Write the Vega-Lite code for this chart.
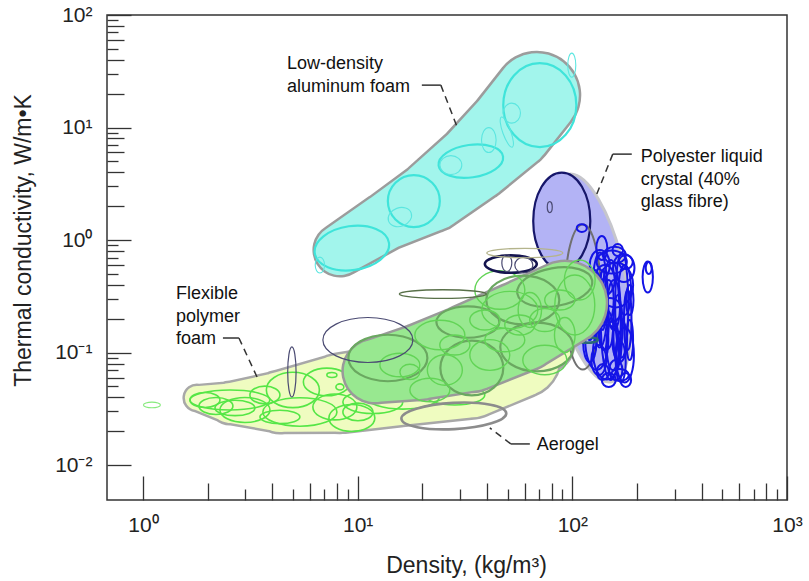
{
  "$schema": "https://vega.github.io/schema/vega-lite/v6.json",
  "width": 680,
  "height": 485,
  "autosize": {"type": "none"},
  "padding": {"left": 107, "top": 15, "right": 22, "bottom": 81},
  "background": "white",
  "config": {"view": {"stroke": "#333333", "strokeWidth": 1.5}, "axis": {"grid": false}},
  "datasets": {
    "env": [
      {"e": "foam", "i": 0, "x": 1.784, "y": 0.03952, "b": 0.213},
      {"e": "foam", "i": 1, "x": 2.542, "y": 0.03567, "b": 0.355},
      {"e": "foam", "i": 2, "x": 4.345, "y": 0.03641, "b": 0.533},
      {"e": "foam", "i": 3, "x": 8.266, "y": 0.04333, "b": 0.684},
      {"e": "foam", "i": 4, "x": 15.73, "y": 0.05155, "b": 0.71},
      {"e": "foam", "i": 5, "x": 33.32, "y": 0.06323, "b": 0.755},
      {"e": "foam", "i": 6, "x": 56.93, "y": 0.0914, "b": 0.71},
      {"e": "foam", "i": 7, "x": 76.86, "y": 0.1168, "b": 0.444},
      {"e": "green", "i": 0, "x": 12.03, "y": 0.0686, "b": 0.551},
      {"e": "green", "i": 1, "x": 19.49, "y": 0.08251, "b": 0.657},
      {"e": "green", "i": 2, "x": 33.32, "y": 0.1099, "b": 0.764},
      {"e": "green", "i": 3, "x": 56.93, "y": 0.1688, "b": 0.782},
      {"e": "green", "i": 4, "x": 92.23, "y": 0.2757, "b": 0.728},
      {"e": "alu", "i": 0, "x": 8.266, "y": 0.815, "b": 0.444},
      {"e": "alu", "i": 1, "x": 13.39, "y": 1.445, "b": 0.497},
      {"e": "alu", "i": 2, "x": 22.16, "y": 2.459, "b": 0.622},
      {"e": "alu", "i": 3, "x": 35.15, "y": 4.928, "b": 0.684},
      {"e": "alu", "i": 4, "x": 51.7, "y": 9.879, "b": 0.746},
      {"e": "alu", "i": 5, "x": 68.31, "y": 19.4, "b": 0.746}
    ],
    "ell": [
      {"g": "gr", "x": 4.993, "y": 0.04655, "s": 0.247, "a": "1.5", "t": 0},
      {"g": "gr", "x": 7.191, "y": 0.05481, "s": 0.219, "a": "1.7", "t": 0},
      {"g": "gr", "x": 2.542, "y": 0.03793, "s": 0.372, "a": "4", "t": 0},
      {"g": "gr", "x": 2.986, "y": 0.03092, "s": 0.233, "a": "2", "t": 0},
      {"g": "gr", "x": 5.383, "y": 0.02969, "s": 0.345, "a": "2.6", "t": 0},
      {"g": "gr", "x": 7.834, "y": 0.03287, "s": 0.205, "a": "1.7", "t": 0},
      {"g": "gr", "x": 11.77, "y": 0.03641, "s": 0.279, "a": "2.6", "t": 0},
      {"g": "gr", "x": 2.682, "y": 0.03221, "s": 0.186, "a": "2.6", "t": 0},
      {"g": "gr", "x": 1.944, "y": 0.03793, "s": 0.14, "a": "2", "t": 0},
      {"g": "gr", "x": 3.699, "y": 0.04201, "s": 0.14, "a": "1.7", "t": 0},
      {"g": "gr", "x": 7.586, "y": 0.06323, "s": 0.047, "a": "2", "t": 0},
      {"g": "gr", "x": 8.266, "y": 0.04949, "s": 0.037, "a": "1.3", "t": 0},
      {"g": "gr", "x": 4.345, "y": 0.02679, "s": 0.186, "a": "3", "t": 0},
      {"g": "gr", "x": 10.03, "y": 0.02969, "s": 0.14, "a": "1.7", "t": 0},
      {"g": "gr", "x": 16.24, "y": 0.04033, "s": 0.34, "a": "3", "t": 0},
      {"g": "gr", "x": 9.4, "y": 0.02625, "s": 0.214, "a": "1.7", "t": 0},
      {"g": "gr", "x": 2.188, "y": 0.03355, "s": 0.158, "a": "2", "t": 0},
      {"g": "gr", "x": 28.36, "y": 0.04201, "s": 0.279, "a": "3", "t": 0},
      {"g": "grt", "x": 1.101, "y": 0.03424, "s": 0.079, "a": "3", "t": 0},
      {"g": "lcp", "x": 120.6, "y": 0.4597, "s": 0.987, "a": "3", "t": 78},
      {"g": "nvf", "x": 89.3, "y": 1.475, "s": 0.452, "a": "1.7", "t": 90},
      {"g": "gy", "x": 111.9, "y": 0.3117, "s": 0.675, "a": "4", "t": 90},
      {"g": "bl", "x": 134.3, "y": 0.2932, "s": 0.442, "a": "6", "t": 90},
      {"g": "bl", "x": 151.1, "y": 0.1948, "s": 0.559, "a": "6", "t": 90},
      {"g": "bl", "x": 169.9, "y": 0.2647, "s": 0.489, "a": "8", "t": 90},
      {"g": "bl", "x": 130.0, "y": 0.1294, "s": 0.279, "a": "2.6", "t": 90},
      {"g": "bl", "x": 159.4, "y": 0.3985, "s": 0.21, "a": "1.3", "t": 90},
      {"g": "bl", "x": 144.7, "y": 0.1012, "s": 0.256, "a": "2", "t": 90},
      {"g": "bl", "x": 175.5, "y": 0.09521, "s": 0.256, "a": "3", "t": 90},
      {"g": "bl", "x": 159.4, "y": 0.07007, "s": 0.093, "a": "1.5", "t": 90},
      {"g": "bl", "x": 127.2, "y": 0.2932, "s": 0.256, "a": "6", "t": 90},
      {"g": "bl", "x": 152.7, "y": 0.6378, "s": 0.14, "a": "1.3", "t": 0},
      {"g": "bl", "x": 173.6, "y": 0.5642, "s": 0.13, "a": "1.3", "t": 90},
      {"g": "bl", "x": 120.6, "y": 0.1242, "s": 0.186, "a": "3", "t": 90},
      {"g": "bl", "x": 162.8, "y": 0.1588, "s": 0.326, "a": "8", "t": 90},
      {"g": "bl", "x": 141.6, "y": 0.4413, "s": 0.14, "a": "1.5", "t": 90},
      {"g": "bl", "x": 181.2, "y": 0.1948, "s": 0.279, "a": "8", "t": 90},
      {"g": "bl", "x": 138.7, "y": 0.06725, "s": 0.074, "a": "1.3", "t": 90},
      {"g": "bl", "x": 166.3, "y": 0.06323, "s": 0.084, "a": "1.5", "t": 0},
      {"g": "bl", "x": 128.6, "y": 0.2114, "s": 0.093, "a": "1", "t": 0},
      {"g": "bl", "x": 147.8, "y": 0.2932, "s": 0.186, "a": "4", "t": 90},
      {"g": "bl", "x": 224.6, "y": 0.4692, "s": 0.144, "a": "3", "t": 90},
      {"g": "bl", "x": 227.0, "y": 0.5642, "s": 0.056, "a": "2", "t": 90},
      {"g": "bl", "x": 137.2, "y": 0.8492, "s": 0.112, "a": "2.2", "t": 90},
      {"g": "bl", "x": 110.7, "y": 1.278, "s": 0.047, "a": "1.3", "t": 0},
      {"g": "bl", "x": 140.1, "y": 0.1948, "s": 0.279, "a": "6", "t": 90},
      {"g": "bl", "x": 156.0, "y": 0.2647, "s": 0.233, "a": "4", "t": 90},
      {"g": "bl", "x": 166.3, "y": 0.1294, "s": 0.205, "a": "3", "t": 90},
      {"g": "bl", "x": 185.1, "y": 0.2932, "s": 0.14, "a": "4", "t": 90},
      {"g": "bl", "x": 177.4, "y": 0.6378, "s": 0.065, "a": "1", "t": 0},
      {"g": "bl", "x": 134.3, "y": 0.5998, "s": 0.14, "a": "1.5", "t": 90},
      {"g": "bl", "x": 157.7, "y": 0.736, "s": 0.102, "a": "1.3", "t": 0},
      {"g": "bl", "x": 127.2, "y": 0.3985, "s": 0.14, "a": "3", "t": 90},
      {"g": "bl", "x": 175.5, "y": 0.3597, "s": 0.233, "a": "4", "t": 90},
      {"g": "bl", "x": 143.2, "y": 0.1588, "s": 0.186, "a": "2.6", "t": 90},
      {"g": "bl", "x": 154.3, "y": 0.1168, "s": 0.233, "a": "4", "t": 90},
      {"g": "bl", "x": 132.9, "y": 0.08596, "s": 0.14, "a": "2", "t": 90},
      {"g": "bl", "x": 168.1, "y": 0.08251, "s": 0.186, "a": "4", "t": 90},
      {"g": "bl", "x": 185.1, "y": 0.1294, "s": 0.186, "a": "6", "t": 90},
      {"g": "bl", "x": 149.4, "y": 0.2389, "s": 0.112, "a": "1", "t": 0},
      {"g": "bl", "x": 120.6, "y": 0.1948, "s": 0.186, "a": "4", "t": 90},
      {"g": "bl", "x": 162.8, "y": 0.815, "s": 0.056, "a": "1.15", "t": 90},
      {"g": "bl", "x": 138.7, "y": 0.2932, "s": 0.279, "a": "10", "t": 90},
      {"g": "bl", "x": 177.4, "y": 0.0571, "s": 0.065, "a": "1.3", "t": 90},
      {"g": "bl", "x": 147.8, "y": 0.0571, "s": 0.065, "a": "1", "t": 0},
      {"g": "teal", "x": 116.8, "y": 0.1294, "s": 0.102, "a": "4", "t": 0},
      {"g": "gg", "x": 34.03, "y": 0.07298, "s": 0.293, "a": "1.15", "t": 0},
      {"g": "gg", "x": 13.83, "y": 0.08956, "s": 0.368, "a": "1.7", "t": 0},
      {"g": "gg", "x": 58.79, "y": 0.2932, "s": 0.34, "a": "1.5", "t": 0},
      {"g": "gg", "x": 68.31, "y": 0.1121, "s": 0.34, "a": "1.5", "t": 0},
      {"g": "gg", "x": 32.61, "y": 0.187, "s": 0.293, "a": "2", "t": 0},
      {"g": "gg", "x": 82.84, "y": 0.3825, "s": 0.354, "a": "2", "t": -10},
      {"g": "gl", "x": 45.95, "y": 0.3597, "s": 0.233, "a": "1.3", "t": 0},
      {"g": "gl", "x": 102.7, "y": 0.2647, "s": 0.279, "a": "1.5", "t": 90},
      {"g": "gl", "x": 21.7, "y": 0.04655, "s": 0.186, "a": "1.7", "t": 0},
      {"g": "gl", "x": 17.51, "y": 0.06725, "s": 0.093, "a": "1.3", "t": 0},
      {"g": "gl", "x": 56.93, "y": 0.1759, "s": 0.14, "a": "1.5", "t": 0},
      {"g": "gl", "x": 74.43, "y": 0.1948, "s": 0.14, "a": "1.3", "t": 0},
      {"g": "gl", "x": 41.27, "y": 0.09521, "s": 0.186, "a": "1.3", "t": 0},
      {"g": "gl", "x": 28.36, "y": 0.1168, "s": 0.14, "a": "1.5", "t": 0},
      {"g": "gl", "x": 92.23, "y": 0.1433, "s": 0.163, "a": "1.7", "t": 90},
      {"g": "gl", "x": 51.14, "y": 0.2389, "s": 0.261, "a": "1.5", "t": 0},
      {"g": "gl", "x": 24.15, "y": 0.1433, "s": 0.233, "a": "1.7", "t": 0},
      {"g": "gl", "x": 74.43, "y": 0.08596, "s": 0.205, "a": "1.5", "t": 0},
      {"g": "gl", "x": 108.3, "y": 0.4413, "s": 0.186, "a": "1.3", "t": 90},
      {"g": "gl", "x": 15.73, "y": 0.0776, "s": 0.186, "a": "1.7", "t": 0},
      {"g": "gl", "x": 25.48, "y": 0.07007, "s": 0.163, "a": "1.15", "t": 0},
      {"g": "gl", "x": 48.48, "y": 0.1294, "s": 0.186, "a": "1.7", "t": 0},
      {"g": "gl", "x": 63.4, "y": 0.2389, "s": 0.163, "a": "1.5", "t": 90},
      {"g": "gl", "x": 39.13, "y": 0.1948, "s": 0.14, "a": "1.5", "t": 0},
      {"g": "gl", "x": 87.41, "y": 0.2932, "s": 0.14, "a": "1.5", "t": 0},
      {"g": "nv", "x": 51.7, "y": 0.612, "s": 0.242, "a": "3", "t": 0},
      {"g": "nvt", "x": 49.53, "y": 0.6247, "s": 0.079, "a": "1.7", "t": 90},
      {"g": "nvt", "x": 59.43, "y": 0.5998, "s": 0.084, "a": "1.15", "t": 0},
      {"g": "nvt", "x": 11.16, "y": 0.1294, "s": 0.419, "a": "2", "t": 0},
      {"g": "nvt", "x": 4.94, "y": 0.06725, "s": 0.233, "a": "6", "t": 90},
      {"g": "nvt", "x": 78.52, "y": 1.964, "s": 0.051, "a": "2.2", "t": 90},
      {"g": "ol1", "x": 60.07, "y": 0.7667, "s": 0.354, "a": "8", "t": 0},
      {"g": "ol2", "x": 24.94, "y": 0.3315, "s": 0.405, "a": "10", "t": 0},
      {"g": "ae", "x": 28.06, "y": 0.02734, "s": 0.489, "a": "4", "t": -3},
      {"g": "cy", "x": 9.4, "y": 0.8492, "s": 0.349, "a": "1.7", "t": -8},
      {"g": "cy", "x": 18.27, "y": 2.22, "s": 0.242, "a": "1", "t": 0},
      {"g": "cy", "x": 33.67, "y": 5.03, "s": 0.303, "a": "2", "t": -8},
      {"g": "cy", "x": 70.55, "y": 15.81, "s": 0.391, "a": "1.15", "t": 90},
      {"g": "cyt", "x": 15.73, "y": 1.601, "s": 0.112, "a": "1.3", "t": -20},
      {"g": "cyt", "x": 27.18, "y": 4.636, "s": 0.102, "a": "1.15", "t": 0},
      {"g": "cyt", "x": 40.83, "y": 7.73, "s": 0.116, "a": "1.7", "t": 90},
      {"g": "cyt", "x": 52.25, "y": 13.43, "s": 0.093, "a": "1.15", "t": 90},
      {"g": "cyt", "x": 49.53, "y": 9.101, "s": 0.149, "a": "4", "t": 70},
      {"g": "cyt", "x": 99.43, "y": 35.84, "s": 0.112, "a": "3", "t": 90},
      {"g": "cyt", "x": 6.671, "y": 0.5998, "s": 0.074, "a": "1.7", "t": 90}
    ],
    "lead": [
      {"id": "alu", "k": "s", "i": 0, "x": 19.91, "y": 23.81},
      {"id": "alu", "k": "s", "i": 1, "x": 24.41, "y": 23.81},
      {"id": "alu", "k": "d", "i": 0, "x": 24.41, "y": 23.81},
      {"id": "alu", "k": "d", "i": 1, "x": 28.97, "y": 10.29},
      {"id": "lcp", "k": "s", "i": 0, "x": 189.2, "y": 5.804},
      {"id": "lcp", "k": "s", "i": 1, "x": 154.3, "y": 5.804},
      {"id": "lcp", "k": "d", "i": 0, "x": 154.3, "y": 5.804},
      {"id": "lcp", "k": "d", "i": 1, "x": 130.0, "y": 2.562},
      {"id": "foam", "k": "s", "i": 0, "x": 2.358, "y": 0.1348},
      {"id": "foam", "k": "s", "i": 1, "x": 2.799, "y": 0.1348},
      {"id": "foam", "k": "d", "i": 0, "x": 2.799, "y": 0.1348},
      {"id": "foam", "k": "d", "i": 1, "x": 3.432, "y": 0.05829},
      {"id": "aero", "k": "s", "i": 0, "x": 63.4, "y": 0.01543},
      {"id": "aero", "k": "s", "i": 1, "x": 51.7, "y": 0.01543},
      {"id": "aero", "k": "d", "i": 0, "x": 51.7, "y": 0.01543},
      {"id": "aero", "k": "d", "i": 1, "x": 41.27, "y": 0.0214}
    ],
    "notes": [
      {"x": 4.683, "y": 33.0, "t": "Low-density\naluminum foam"},
      {"x": 208.3, "y": 4.928, "t": "Polyester liquid\ncrystal (40%\nglass fibre)"},
      {"x": 1.424, "y": 0.2992, "t": "Flexible\npolymer\nfoam"},
      {"x": 68.3, "y": 0.01365, "t": "Aerogel"}
    ]
  },
  "encoding": {
    "x": {"field": "x", "type": "quantitative", "scale": {"type": "log", "domain": [0.68, 1000], "nice": false}, "axis": null},
    "y": {"field": "y", "type": "quantitative", "scale": {"type": "log", "domain": [0.0049, 100], "nice": false}, "axis": null}
  },
  "layer": [
    {
      "data": {"name": "env"},
      "transform": [{"filter": "datum.e == 'foam'"}],
      "mark": {"type": "trail", "color": "#a8a8a8", "opacity": 1},
      "encoding": {
        "x": {"field": "x", "type": "quantitative", "scale": {"type": "log", "domain": [0.68, 1000], "nice": false},
          "axis": {"orient": "bottom", "values": [1, 10, 100, 1000], "tickSize": 24, "offset": -24, "domain": false, "labels": false, "title": null, "tickColor": "#333333", "tickWidth": 1.3, "grid": false}},
        "y": {"field": "y", "type": "quantitative", "scale": {"type": "log", "domain": [0.0049, 100], "nice": false},
          "axis": {"orient": "left", "values": [0.01, 0.1, 1, 10, 100], "tickSize": 24, "offset": -24, "domain": false, "labels": false, "title": null, "tickColor": "#333333", "tickWidth": 1.3, "grid": false}},
        "order": {"field": "i", "type": "quantitative"},
        "size": {"field": "b", "type": "quantitative", "scale": {"type": "linear", "domain": [0, 1], "range": [5, 117.6], "nice": false, "zero": false}, "legend": null}
      }
    },
    {
      "data": {"name": "env"},
      "transform": [{"filter": "datum.e == 'foam'"}],
      "mark": {"type": "trail", "color": "#effcc0", "opacity": 1},
      "encoding": {
        "x": {"field": "x", "type": "quantitative", "scale": {"type": "log", "domain": [0.68, 1000], "nice": false},
          "axis": {"orient": "bottom", "values": [2, 4, 6, 8, 20, 40, 60, 80, 200, 400, 600, 800], "tickSize": 17, "offset": -17, "domain": false, "labels": false, "title": null, "tickColor": "#333333", "tickWidth": 1.3, "grid": false}},
        "y": {"field": "y", "type": "quantitative", "scale": {"type": "log", "domain": [0.0049, 100], "nice": false},
          "axis": {"orient": "left", "values": [0.02, 0.04, 0.06, 0.08, 0.2, 0.4, 0.6, 0.8, 2, 4, 6, 8, 20, 40, 60, 80], "tickSize": 17, "offset": -17, "domain": false, "labels": false, "title": null, "tickColor": "#333333", "tickWidth": 1.3, "grid": false}},
        "order": {"field": "i", "type": "quantitative"},
        "size": {"field": "b", "type": "quantitative", "scale": {"type": "linear", "domain": [0, 1], "range": [0, 112.6], "nice": false, "zero": false}, "legend": null}
      }
    },
    {
      "data": {"name": "ell"},
      "transform": [{"filter": "datum.g == 'gr'"}],
      "mark": {"type": "point", "filled": false, "stroke": "#55e646", "strokeWidth": 1.6, "opacity": 1},
      "encoding": {
        "size": {"field": "s", "type": "quantitative", "scale": {"type": "pow", "exponent": 2, "domain": [0, 1], "range": [0, 46127]}, "legend": null},
        "shape": {"field": "a", "type": "nominal", "legend": null, "scale": {"domain": ["1", "1.15", "1.3", "1.5", "1.7", "2", "2.2", "2.6", "3", "4", "6", "8", "10"], "range": [
          "M-1,0C-1,-0.552 -0.552,-1 0,-1C0.552,-1 1,-0.552 1,0C1,0.552 0.552,1 0,1C-0.552,1 -1,0.552 -1,0Z",
          "M-1,0C-1,-0.48 -0.552,-0.87 0,-0.87C0.552,-0.87 1,-0.48 1,0C1,0.48 0.552,0.87 0,0.87C-0.552,0.87 -1,0.48 -1,0Z",
          "M-1,0C-1,-0.425 -0.552,-0.769 0,-0.769C0.552,-0.769 1,-0.425 1,0C1,0.425 0.552,0.769 0,0.769C-0.552,0.769 -1,0.425 -1,0Z",
          "M-1,0C-1,-0.368 -0.552,-0.667 0,-0.667C0.552,-0.667 1,-0.368 1,0C1,0.368 0.552,0.667 0,0.667C-0.552,0.667 -1,0.368 -1,0Z",
          "M-1,0C-1,-0.325 -0.552,-0.588 0,-0.588C0.552,-0.588 1,-0.325 1,0C1,0.325 0.552,0.588 0,0.588C-0.552,0.588 -1,0.325 -1,0Z",
          "M-1,0C-1,-0.276 -0.552,-0.5 0,-0.5C0.552,-0.5 1,-0.276 1,0C1,0.276 0.552,0.5 0,0.5C-0.552,0.5 -1,0.276 -1,0Z",
          "M-1,0C-1,-0.251 -0.552,-0.455 0,-0.455C0.552,-0.455 1,-0.251 1,0C1,0.251 0.552,0.455 0,0.455C-0.552,0.455 -1,0.251 -1,0Z",
          "M-1,0C-1,-0.212 -0.552,-0.385 0,-0.385C0.552,-0.385 1,-0.212 1,0C1,0.212 0.552,0.385 0,0.385C-0.552,0.385 -1,0.212 -1,0Z",
          "M-1,0C-1,-0.184 -0.552,-0.333 0,-0.333C0.552,-0.333 1,-0.184 1,0C1,0.184 0.552,0.333 0,0.333C-0.552,0.333 -1,0.184 -1,0Z",
          "M-1,0C-1,-0.138 -0.552,-0.25 0,-0.25C0.552,-0.25 1,-0.138 1,0C1,0.138 0.552,0.25 0,0.25C-0.552,0.25 -1,0.138 -1,0Z",
          "M-1,0C-1,-0.092 -0.552,-0.167 0,-0.167C0.552,-0.167 1,-0.092 1,0C1,0.092 0.552,0.167 0,0.167C-0.552,0.167 -1,0.092 -1,0Z",
          "M-1,0C-1,-0.069 -0.552,-0.125 0,-0.125C0.552,-0.125 1,-0.069 1,0C1,0.069 0.552,0.125 0,0.125C-0.552,0.125 -1,0.069 -1,0Z",
          "M-1,0C-1,-0.055 -0.552,-0.1 0,-0.1C0.552,-0.1 1,-0.055 1,0C1,0.055 0.552,0.1 0,0.1C-0.552,0.1 -1,0.055 -1,0Z"
        ]}},
        "angle": {"field": "t", "type": "quantitative", "scale": null}
      }
    },
    {
      "data": {"name": "ell"},
      "transform": [{"filter": "datum.g == 'grt'"}],
      "mark": {"type": "point", "filled": false, "stroke": "#86ea7c", "strokeWidth": 1.1, "opacity": 1},
      "encoding": {
        "size": {"field": "s", "type": "quantitative", "scale": {"type": "pow", "exponent": 2, "domain": [0, 1], "range": [0, 46127]}, "legend": null},
        "shape": {"field": "a", "type": "nominal", "legend": null},
        "angle": {"field": "t", "type": "quantitative", "scale": null}
      }
    },
    {
      "data": {"name": "ell"},
      "transform": [{"filter": "datum.g == 'lcp'"}],
      "mark": {"type": "point", "filled": true, "fill": "#b3b3f5", "stroke": "#c6c6cc", "strokeWidth": 3, "opacity": 1},
      "encoding": {
        "size": {"field": "s", "type": "quantitative", "scale": {"type": "pow", "exponent": 2, "domain": [0, 1], "range": [0, 46127]}, "legend": null},
        "shape": {"field": "a", "type": "nominal", "legend": null},
        "angle": {"field": "t", "type": "quantitative", "scale": null}
      }
    },
    {
      "data": {"name": "ell"},
      "transform": [{"filter": "datum.g == 'nvf'"}],
      "mark": {"type": "point", "filled": true, "fill": "#b3b3f5", "stroke": "#16166a", "strokeWidth": 2.2, "opacity": 1},
      "encoding": {
        "size": {"field": "s", "type": "quantitative", "scale": {"type": "pow", "exponent": 2, "domain": [0, 1], "range": [0, 46127]}, "legend": null},
        "shape": {"field": "a", "type": "nominal", "legend": null},
        "angle": {"field": "t", "type": "quantitative", "scale": null}
      }
    },
    {
      "data": {"name": "ell"},
      "transform": [{"filter": "datum.g == 'gy'"}],
      "mark": {"type": "point", "filled": false, "stroke": "#707070", "strokeWidth": 2, "opacity": 1},
      "encoding": {
        "size": {"field": "s", "type": "quantitative", "scale": {"type": "pow", "exponent": 2, "domain": [0, 1], "range": [0, 46127]}, "legend": null},
        "shape": {"field": "a", "type": "nominal", "legend": null},
        "angle": {"field": "t", "type": "quantitative", "scale": null}
      }
    },
    {
      "data": {"name": "ell"},
      "transform": [{"filter": "datum.g == 'bl'"}],
      "mark": {"type": "point", "filled": false, "stroke": "#1414e6", "strokeWidth": 2, "opacity": 1},
      "encoding": {
        "size": {"field": "s", "type": "quantitative", "scale": {"type": "pow", "exponent": 2, "domain": [0, 1], "range": [0, 46127]}, "legend": null},
        "shape": {"field": "a", "type": "nominal", "legend": null},
        "angle": {"field": "t", "type": "quantitative", "scale": null}
      }
    },
    {
      "data": {"name": "ell"},
      "transform": [{"filter": "datum.g == 'teal'"}],
      "mark": {"type": "point", "filled": false, "stroke": "#2a6a78", "strokeWidth": 2.5, "opacity": 1},
      "encoding": {
        "size": {"field": "s", "type": "quantitative", "scale": {"type": "pow", "exponent": 2, "domain": [0, 1], "range": [0, 46127]}, "legend": null},
        "shape": {"field": "a", "type": "nominal", "legend": null},
        "angle": {"field": "t", "type": "quantitative", "scale": null}
      }
    },
    {
      "data": {"name": "env"},
      "transform": [{"filter": "datum.e == 'green'"}],
      "mark": {"type": "trail", "color": "#9a9a9a", "opacity": 1},
      "encoding": {
        "x": {"field": "x", "type": "quantitative", "scale": {"type": "log", "domain": [0.68, 1000], "nice": false},
          "axis": {"orient": "bottom", "values": [3, 5, 7, 9, 30, 50, 70, 90, 300, 500, 700, 900], "tickSize": 11, "offset": -11, "domain": false, "labels": false, "title": null, "tickColor": "#333333", "tickWidth": 1.3, "grid": false}},
        "y": {"field": "y", "type": "quantitative", "scale": {"type": "log", "domain": [0.0049, 100], "nice": false},
          "axis": {"orient": "left", "values": [0.03, 0.05, 0.07, 0.09, 0.3, 0.5, 0.7, 0.9, 3, 5, 7, 9, 30, 50, 70, 90], "tickSize": 11, "offset": -11, "domain": false, "labels": false, "title": null, "tickColor": "#333333", "tickWidth": 1.3, "grid": false}},
        "order": {"field": "i", "type": "quantitative"},
        "size": {"field": "b", "type": "quantitative", "scale": {"type": "linear", "domain": [0, 1], "range": [5, 117.6], "nice": false, "zero": false}, "legend": null}
      }
    },
    {
      "data": {"name": "env"},
      "transform": [{"filter": "datum.e == 'green'"}],
      "mark": {"type": "trail", "color": "#98e890", "opacity": 1},
      "encoding": {
        "x": {"field": "x", "type": "quantitative", "scale": {"type": "log", "domain": [0.68, 1000], "nice": false},
          "axis": {"orient": "bottom", "values": [1, 10, 100, 1000], "ticks": false, "domain": false, "labels": true, "grid": false,
            "labelExpr": "datum.value == 1 ? '10\u2070' : datum.value == 10 ? '10\u00b9' : datum.value == 100 ? '10\u00b2' : '10\u00b3'",
            "labelFont": "Liberation Sans", "labelFontSize": 21, "labelColor": "#222222", "labelPadding": 14, "labelFlush": false, "labelOverlap": false, "labelBound": false,
            "title": "Density, (kg/m\u00b3)", "titleFont": "Liberation Sans", "titleFontSize": 23, "titleFontWeight": "normal", "titleColor": "#222222",
            "titleX": 359, "titleY": 72, "titleBaseline": "alphabetic", "titleAlign": "center"}},
        "y": {"field": "y", "type": "quantitative", "scale": {"type": "log", "domain": [0.0049, 100], "nice": false},
          "axis": {"orient": "left", "values": [0.01, 0.1, 1, 10, 100], "ticks": false, "domain": false, "labels": true, "grid": false,
            "labelExpr": "datum.value < 0.05 ? '10\u207b\u00b2' : datum.value < 0.5 ? '10\u207b\u00b9' : datum.value < 5 ? '10\u2070' : datum.value < 50 ? '10\u00b9' : '10\u00b2'",
            "labelFont": "Liberation Sans", "labelFontSize": 21, "labelColor": "#222222", "labelPadding": 15, "labelFlush": false, "labelOverlap": false, "labelBound": false,
            "title": "Thermal conductivity, W/m\u2022K", "titleFont": "Liberation Sans", "titleFontSize": 23, "titleFontWeight": "normal", "titleColor": "#222222",
            "titleX": -77, "titleY": 225, "titleAngle": 270, "titleBaseline": "alphabetic", "titleAlign": "center"}},
        "order": {"field": "i", "type": "quantitative"},
        "size": {"field": "b", "type": "quantitative", "scale": {"type": "linear", "domain": [0, 1], "range": [0, 112.6], "nice": false, "zero": false}, "legend": null}
      }
    },
    {
      "data": {"name": "ell"},
      "transform": [{"filter": "datum.g == 'gg'"}],
      "mark": {"type": "point", "filled": false, "stroke": "#6aa860", "strokeWidth": 2.2, "opacity": 1},
      "encoding": {
        "size": {"field": "s", "type": "quantitative", "scale": {"type": "pow", "exponent": 2, "domain": [0, 1], "range": [0, 46127]}, "legend": null},
        "shape": {"field": "a", "type": "nominal", "legend": null},
        "angle": {"field": "t", "type": "quantitative", "scale": null}
      }
    },
    {
      "data": {"name": "ell"},
      "transform": [{"filter": "datum.g == 'gl'"}],
      "mark": {"type": "point", "filled": false, "stroke": "#62d456", "strokeWidth": 1.4, "opacity": 1},
      "encoding": {
        "size": {"field": "s", "type": "quantitative", "scale": {"type": "pow", "exponent": 2, "domain": [0, 1], "range": [0, 46127]}, "legend": null},
        "shape": {"field": "a", "type": "nominal", "legend": null},
        "angle": {"field": "t", "type": "quantitative", "scale": null}
      }
    },
    {
      "data": {"name": "ell"},
      "transform": [{"filter": "datum.g == 'nv'"}],
      "mark": {"type": "point", "filled": false, "stroke": "#14144e", "strokeWidth": 2.6, "opacity": 1},
      "encoding": {
        "size": {"field": "s", "type": "quantitative", "scale": {"type": "pow", "exponent": 2, "domain": [0, 1], "range": [0, 46127]}, "legend": null},
        "shape": {"field": "a", "type": "nominal", "legend": null},
        "angle": {"field": "t", "type": "quantitative", "scale": null}
      }
    },
    {
      "data": {"name": "ell"},
      "transform": [{"filter": "datum.g == 'nvt'"}],
      "mark": {"type": "point", "filled": false, "stroke": "#4a4a72", "strokeWidth": 1.2, "opacity": 1},
      "encoding": {
        "size": {"field": "s", "type": "quantitative", "scale": {"type": "pow", "exponent": 2, "domain": [0, 1], "range": [0, 46127]}, "legend": null},
        "shape": {"field": "a", "type": "nominal", "legend": null},
        "angle": {"field": "t", "type": "quantitative", "scale": null}
      }
    },
    {
      "data": {"name": "ell"},
      "transform": [{"filter": "datum.g == 'ol1'"}],
      "mark": {"type": "point", "filled": false, "stroke": "#b4b48c", "strokeWidth": 1.3, "opacity": 1},
      "encoding": {
        "size": {"field": "s", "type": "quantitative", "scale": {"type": "pow", "exponent": 2, "domain": [0, 1], "range": [0, 46127]}, "legend": null},
        "shape": {"field": "a", "type": "nominal", "legend": null},
        "angle": {"field": "t", "type": "quantitative", "scale": null}
      }
    },
    {
      "data": {"name": "ell"},
      "transform": [{"filter": "datum.g == 'ol2'"}],
      "mark": {"type": "point", "filled": false, "stroke": "#587048", "strokeWidth": 1.4, "opacity": 1},
      "encoding": {
        "size": {"field": "s", "type": "quantitative", "scale": {"type": "pow", "exponent": 2, "domain": [0, 1], "range": [0, 46127]}, "legend": null},
        "shape": {"field": "a", "type": "nominal", "legend": null},
        "angle": {"field": "t", "type": "quantitative", "scale": null}
      }
    },
    {
      "data": {"name": "ell"},
      "transform": [{"filter": "datum.g == 'ae'"}],
      "mark": {"type": "point", "filled": false, "stroke": "#8c8c8c", "strokeWidth": 2.6, "opacity": 1},
      "encoding": {
        "size": {"field": "s", "type": "quantitative", "scale": {"type": "pow", "exponent": 2, "domain": [0, 1], "range": [0, 46127]}, "legend": null},
        "shape": {"field": "a", "type": "nominal", "legend": null},
        "angle": {"field": "t", "type": "quantitative", "scale": null}
      }
    },
    {
      "data": {"name": "env"},
      "transform": [{"filter": "datum.e == 'alu'"}],
      "mark": {"type": "trail", "color": "#9c9c9c", "opacity": 1},
      "encoding": {
        "order": {"field": "i", "type": "quantitative"},
        "size": {"field": "b", "type": "quantitative", "scale": {"type": "linear", "domain": [0, 1], "range": [5, 117.6], "nice": false, "zero": false}, "legend": null}
      }
    },
    {
      "data": {"name": "env"},
      "transform": [{"filter": "datum.e == 'alu'"}],
      "mark": {"type": "trail", "color": "#a2f5ec", "opacity": 1},
      "encoding": {
        "order": {"field": "i", "type": "quantitative"},
        "size": {"field": "b", "type": "quantitative", "scale": {"type": "linear", "domain": [0, 1], "range": [0, 112.6], "nice": false, "zero": false}, "legend": null}
      }
    },
    {
      "data": {"name": "ell"},
      "transform": [{"filter": "datum.g == 'cy'"}],
      "mark": {"type": "point", "filled": false, "stroke": "#3fe4da", "strokeWidth": 2.2, "opacity": 1},
      "encoding": {
        "size": {"field": "s", "type": "quantitative", "scale": {"type": "pow", "exponent": 2, "domain": [0, 1], "range": [0, 46127]}, "legend": null},
        "shape": {"field": "a", "type": "nominal", "legend": null},
        "angle": {"field": "t", "type": "quantitative", "scale": null}
      }
    },
    {
      "data": {"name": "ell"},
      "transform": [{"filter": "datum.g == 'cyt'"}],
      "mark": {"type": "point", "filled": false, "stroke": "#5ce6e0", "strokeWidth": 1.1, "opacity": 1},
      "encoding": {
        "size": {"field": "s", "type": "quantitative", "scale": {"type": "pow", "exponent": 2, "domain": [0, 1], "range": [0, 46127]}, "legend": null},
        "shape": {"field": "a", "type": "nominal", "legend": null},
        "angle": {"field": "t", "type": "quantitative", "scale": null}
      }
    },
    {
      "data": {"name": "lead"},
      "transform": [{"filter": "datum.k == 's'"}],
      "mark": {"type": "line", "color": "#333333", "strokeWidth": 1.5},
      "encoding": {
        "detail": {"field": "id", "type": "nominal"},
        "order": {"field": "i", "type": "quantitative"}
      }
    },
    {
      "data": {"name": "lead"},
      "transform": [{"filter": "datum.k == 'd'"}],
      "mark": {"type": "line", "color": "#333333", "strokeWidth": 1.5, "strokeDash": [7, 5]},
      "encoding": {
        "detail": {"field": "id", "type": "nominal"},
        "order": {"field": "i", "type": "quantitative"}
      }
    },
    {
      "data": {"name": "notes"},
      "mark": {"type": "text", "align": "left", "baseline": "alphabetic", "font": "Liberation Sans", "fontSize": 18, "color": "#111111", "lineBreak": "\n", "lineHeight": 22.5},
      "encoding": {
        "text": {"field": "t", "type": "nominal"}
      }
    }
  ],
  "resolve": {"scale": {"size": "independent"}, "axis": {"x": "independent", "y": "independent"}}
}
